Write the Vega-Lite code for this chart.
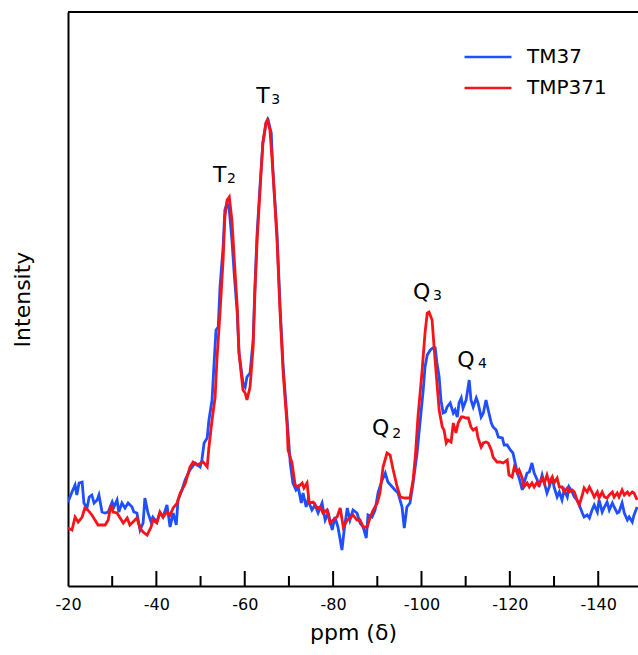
{
  "$schema": "https://vega.github.io/schema/vega-lite/v6.json",
  "width": 570,
  "height": 574,
  "autosize": {"type": "none"},
  "padding": {"left": 68, "top": 12, "right": 0, "bottom": 69},
  "config": {
    "view": {"stroke": null},
    "font": "DejaVu Sans",
    "axis": {"labelFont": "DejaVu Sans", "titleFont": "DejaVu Sans", "labelColor": "black", "titleColor": "black", "titleFontWeight": "normal", "domainColor": "black", "domainWidth": 2, "grid": false}
  },
  "datasets": {
    "spectra": [
      {"sample":"TM37","ppm":-20.0,"intensity":84},{"sample":"TM37","ppm":-20.9,"intensity":94},{"sample":"TM37","ppm":-21.6,"intensity":101},{"sample":"TM37","ppm":-22.0,"intensity":91},{"sample":"TM37","ppm":-22.5,"intensity":103},{"sample":"TM37","ppm":-23.2,"intensity":104},{"sample":"TM37","ppm":-23.6,"intensity":83},{"sample":"TM37","ppm":-24.3,"intensity":78},{"sample":"TM37","ppm":-24.8,"intensity":89},{"sample":"TM37","ppm":-25.4,"intensity":91},{"sample":"TM37","ppm":-25.9,"intensity":83},{"sample":"TM37","ppm":-26.6,"intensity":86},{"sample":"TM37","ppm":-27.0,"intensity":91},{"sample":"TM37","ppm":-27.7,"intensity":74},{"sample":"TM37","ppm":-28.4,"intensity":73},{"sample":"TM37","ppm":-29.1,"intensity":74},{"sample":"TM37","ppm":-30.0,"intensity":84},{"sample":"TM37","ppm":-30.4,"intensity":79},{"sample":"TM37","ppm":-31.1,"intensity":86},{"sample":"TM37","ppm":-31.5,"intensity":74},{"sample":"TM37","ppm":-32.2,"intensity":83},{"sample":"TM37","ppm":-32.9,"intensity":78},{"sample":"TM37","ppm":-33.6,"intensity":83},{"sample":"TM37","ppm":-34.5,"intensity":79},{"sample":"TM37","ppm":-34.9,"intensity":74},{"sample":"TM37","ppm":-35.6,"intensity":73},{"sample":"TM37","ppm":-36.3,"intensity":56},{"sample":"TM37","ppm":-37.0,"intensity":63},{"sample":"TM37","ppm":-37.4,"intensity":88},{"sample":"TM37","ppm":-38.1,"intensity":73},{"sample":"TM37","ppm":-38.8,"intensity":64},{"sample":"TM37","ppm":-39.2,"intensity":69},{"sample":"TM37","ppm":-40.1,"intensity":64},{"sample":"TM37","ppm":-40.8,"intensity":73},{"sample":"TM37","ppm":-41.5,"intensity":69},{"sample":"TM37","ppm":-42.4,"intensity":81},{"sample":"TM37","ppm":-43.1,"intensity":59},{"sample":"TM37","ppm":-43.8,"intensity":73},{"sample":"TM37","ppm":-44.5,"intensity":61},{"sample":"TM37","ppm":-44.9,"intensity":86},{"sample":"TM37","ppm":-45.8,"intensity":96},{"sample":"TM37","ppm":-46.5,"intensity":106},{"sample":"TM37","ppm":-47.6,"intensity":116},{"sample":"TM37","ppm":-48.8,"intensity":123},{"sample":"TM37","ppm":-49.9,"intensity":119},{"sample":"TM37","ppm":-50.3,"intensity":126},{"sample":"TM37","ppm":-50.8,"intensity":143},{"sample":"TM37","ppm":-51.5,"intensity":148},{"sample":"TM37","ppm":-51.9,"intensity":166},{"sample":"TM37","ppm":-52.6,"intensity":186},{"sample":"TM37","ppm":-53.1,"intensity":226},{"sample":"TM37","ppm":-53.5,"intensity":256},{"sample":"TM37","ppm":-54.0,"intensity":259},{"sample":"TM37","ppm":-54.4,"intensity":299},{"sample":"TM37","ppm":-55.1,"intensity":339},{"sample":"TM37","ppm":-55.5,"intensity":376},{"sample":"TM37","ppm":-56.0,"intensity":383},{"sample":"TM37","ppm":-56.5,"intensity":376},{"sample":"TM37","ppm":-57.1,"intensity":346},{"sample":"TM37","ppm":-57.6,"intensity":313},{"sample":"TM37","ppm":-58.3,"intensity":273},{"sample":"TM37","ppm":-58.7,"intensity":233},{"sample":"TM37","ppm":-59.6,"intensity":203},{"sample":"TM37","ppm":-60.1,"intensity":199},{"sample":"TM37","ppm":-60.5,"intensity":209},{"sample":"TM37","ppm":-61.2,"intensity":213},{"sample":"TM37","ppm":-61.9,"intensity":246},{"sample":"TM37","ppm":-62.3,"intensity":299},{"sample":"TM37","ppm":-62.8,"intensity":353},{"sample":"TM37","ppm":-63.5,"intensity":403},{"sample":"TM37","ppm":-64.1,"intensity":443},{"sample":"TM37","ppm":-64.8,"intensity":463},{"sample":"TM37","ppm":-65.3,"intensity":466},{"sample":"TM37","ppm":-66.0,"intensity":453},{"sample":"TM37","ppm":-66.4,"intensity":413},{"sample":"TM37","ppm":-67.3,"intensity":353},{"sample":"TM37","ppm":-68.0,"intensity":279},{"sample":"TM37","ppm":-68.7,"intensity":219},{"sample":"TM37","ppm":-69.6,"intensity":166},{"sample":"TM37","ppm":-70.3,"intensity":123},{"sample":"TM37","ppm":-70.9,"intensity":103},{"sample":"TM37","ppm":-71.6,"intensity":96},{"sample":"TM37","ppm":-72.1,"intensity":99},{"sample":"TM37","ppm":-72.8,"intensity":83},{"sample":"TM37","ppm":-73.2,"intensity":93},{"sample":"TM37","ppm":-73.9,"intensity":79},{"sample":"TM37","ppm":-74.3,"intensity":86},{"sample":"TM37","ppm":-75.2,"intensity":76},{"sample":"TM37","ppm":-75.9,"intensity":81},{"sample":"TM37","ppm":-76.6,"intensity":73},{"sample":"TM37","ppm":-77.5,"intensity":83},{"sample":"TM37","ppm":-78.2,"intensity":66},{"sample":"TM37","ppm":-78.9,"intensity":73},{"sample":"TM37","ppm":-79.8,"intensity":56},{"sample":"TM37","ppm":-80.4,"intensity":69},{"sample":"TM37","ppm":-81.1,"intensity":59},{"sample":"TM37","ppm":-82.0,"intensity":36},{"sample":"TM37","ppm":-82.5,"intensity":56},{"sample":"TM37","ppm":-83.2,"intensity":78},{"sample":"TM37","ppm":-83.8,"intensity":66},{"sample":"TM37","ppm":-84.5,"intensity":76},{"sample":"TM37","ppm":-85.4,"intensity":73},{"sample":"TM37","ppm":-86.1,"intensity":63},{"sample":"TM37","ppm":-86.8,"intensity":59},{"sample":"TM37","ppm":-87.5,"intensity":48},{"sample":"TM37","ppm":-87.9,"intensity":71},{"sample":"TM37","ppm":-88.8,"intensity":69},{"sample":"TM37","ppm":-89.5,"intensity":76},{"sample":"TM37","ppm":-90.2,"intensity":94},{"sample":"TM37","ppm":-91.1,"intensity":106},{"sample":"TM37","ppm":-91.8,"intensity":113},{"sample":"TM37","ppm":-92.4,"intensity":104},{"sample":"TM37","ppm":-93.4,"intensity":99},{"sample":"TM37","ppm":-94.0,"intensity":96},{"sample":"TM37","ppm":-94.7,"intensity":93},{"sample":"TM37","ppm":-95.6,"intensity":79},{"sample":"TM37","ppm":-96.1,"intensity":58},{"sample":"TM37","ppm":-96.7,"intensity":79},{"sample":"TM37","ppm":-97.4,"intensity":83},{"sample":"TM37","ppm":-98.1,"intensity":103},{"sample":"TM37","ppm":-99.0,"intensity":133},{"sample":"TM37","ppm":-99.5,"intensity":156},{"sample":"TM37","ppm":-100.4,"intensity":196},{"sample":"TM37","ppm":-100.8,"intensity":219},{"sample":"TM37","ppm":-101.3,"intensity":231},{"sample":"TM37","ppm":-102.0,"intensity":236},{"sample":"TM37","ppm":-102.6,"intensity":238},{"sample":"TM37","ppm":-103.1,"intensity":238},{"sample":"TM37","ppm":-103.5,"intensity":223},{"sample":"TM37","ppm":-104.0,"intensity":209},{"sample":"TM37","ppm":-104.4,"intensity":186},{"sample":"TM37","ppm":-104.9,"intensity":173},{"sample":"TM37","ppm":-105.4,"intensity":174},{"sample":"TM37","ppm":-105.8,"intensity":179},{"sample":"TM37","ppm":-106.5,"intensity":183},{"sample":"TM37","ppm":-107.2,"intensity":173},{"sample":"TM37","ppm":-107.6,"intensity":176},{"sample":"TM37","ppm":-108.1,"intensity":169},{"sample":"TM37","ppm":-108.5,"intensity":183},{"sample":"TM37","ppm":-109.0,"intensity":188},{"sample":"TM37","ppm":-109.4,"intensity":178},{"sample":"TM37","ppm":-110.1,"intensity":186},{"sample":"TM37","ppm":-110.8,"intensity":206},{"sample":"TM37","ppm":-111.2,"intensity":186},{"sample":"TM37","ppm":-111.7,"intensity":179},{"sample":"TM37","ppm":-112.4,"intensity":188},{"sample":"TM37","ppm":-112.8,"intensity":183},{"sample":"TM37","ppm":-113.5,"intensity":169},{"sample":"TM37","ppm":-114.0,"intensity":173},{"sample":"TM37","ppm":-114.6,"intensity":186},{"sample":"TM37","ppm":-115.1,"intensity":176},{"sample":"TM37","ppm":-115.8,"intensity":163},{"sample":"TM37","ppm":-116.2,"intensity":159},{"sample":"TM37","ppm":-116.9,"intensity":156},{"sample":"TM37","ppm":-117.4,"intensity":149},{"sample":"TM37","ppm":-118.3,"intensity":148},{"sample":"TM37","ppm":-118.7,"intensity":141},{"sample":"TM37","ppm":-119.4,"intensity":141},{"sample":"TM37","ppm":-120.1,"intensity":136},{"sample":"TM37","ppm":-120.7,"intensity":133},{"sample":"TM37","ppm":-121.2,"intensity":123},{"sample":"TM37","ppm":-121.7,"intensity":113},{"sample":"TM37","ppm":-122.1,"intensity":108},{"sample":"TM37","ppm":-122.8,"intensity":96},{"sample":"TM37","ppm":-123.2,"intensity":103},{"sample":"TM37","ppm":-123.9,"intensity":113},{"sample":"TM37","ppm":-124.4,"intensity":114},{"sample":"TM37","ppm":-125.0,"intensity":123},{"sample":"TM37","ppm":-125.5,"intensity":113},{"sample":"TM37","ppm":-126.2,"intensity":106},{"sample":"TM37","ppm":-126.6,"intensity":99},{"sample":"TM37","ppm":-127.3,"intensity":111},{"sample":"TM37","ppm":-127.8,"intensity":103},{"sample":"TM37","ppm":-128.4,"intensity":93},{"sample":"TM37","ppm":-128.9,"intensity":99},{"sample":"TM37","ppm":-129.6,"intensity":109},{"sample":"TM37","ppm":-130.0,"intensity":99},{"sample":"TM37","ppm":-130.7,"intensity":89},{"sample":"TM37","ppm":-131.2,"intensity":94},{"sample":"TM37","ppm":-131.8,"intensity":86},{"sample":"TM37","ppm":-132.3,"intensity":96},{"sample":"TM37","ppm":-133.0,"intensity":89},{"sample":"TM37","ppm":-133.4,"intensity":99},{"sample":"TM37","ppm":-134.1,"intensity":94},{"sample":"TM37","ppm":-134.6,"intensity":89},{"sample":"TM37","ppm":-135.2,"intensity":86},{"sample":"TM37","ppm":-135.7,"intensity":81},{"sample":"TM37","ppm":-136.4,"intensity":73},{"sample":"TM37","ppm":-136.8,"intensity":69},{"sample":"TM37","ppm":-137.5,"intensity":71},{"sample":"TM37","ppm":-138.0,"intensity":68},{"sample":"TM37","ppm":-138.6,"intensity":76},{"sample":"TM37","ppm":-139.1,"intensity":81},{"sample":"TM37","ppm":-139.8,"intensity":74},{"sample":"TM37","ppm":-140.2,"intensity":86},{"sample":"TM37","ppm":-140.9,"intensity":74},{"sample":"TM37","ppm":-141.4,"intensity":79},{"sample":"TM37","ppm":-142.0,"intensity":84},{"sample":"TM37","ppm":-142.5,"intensity":76},{"sample":"TM37","ppm":-143.2,"intensity":83},{"sample":"TM37","ppm":-143.6,"intensity":79},{"sample":"TM37","ppm":-144.3,"intensity":73},{"sample":"TM37","ppm":-144.7,"intensity":74},{"sample":"TM37","ppm":-145.4,"intensity":83},{"sample":"TM37","ppm":-145.9,"intensity":73},{"sample":"TM37","ppm":-146.6,"intensity":66},{"sample":"TM37","ppm":-147.0,"intensity":69},{"sample":"TM37","ppm":-147.7,"intensity":64},{"sample":"TM37","ppm":-148.1,"intensity":71},{"sample":"TM37","ppm":-148.8,"intensity":79},
      {"sample":"TMP371","ppm":-20.0,"intensity":58},{"sample":"TMP371","ppm":-20.9,"intensity":56},{"sample":"TMP371","ppm":-21.6,"intensity":69},{"sample":"TMP371","ppm":-22.3,"intensity":64},{"sample":"TMP371","ppm":-23.2,"intensity":69},{"sample":"TMP371","ppm":-23.8,"intensity":78},{"sample":"TMP371","ppm":-24.5,"intensity":76},{"sample":"TMP371","ppm":-25.4,"intensity":71},{"sample":"TMP371","ppm":-26.1,"intensity":66},{"sample":"TMP371","ppm":-26.8,"intensity":61},{"sample":"TMP371","ppm":-27.7,"intensity":61},{"sample":"TMP371","ppm":-28.4,"intensity":61},{"sample":"TMP371","ppm":-29.1,"intensity":66},{"sample":"TMP371","ppm":-29.7,"intensity":81},{"sample":"TMP371","ppm":-30.2,"intensity":74},{"sample":"TMP371","ppm":-31.1,"intensity":73},{"sample":"TMP371","ppm":-31.8,"intensity":68},{"sample":"TMP371","ppm":-32.5,"intensity":63},{"sample":"TMP371","ppm":-33.4,"intensity":68},{"sample":"TMP371","ppm":-34.0,"intensity":61},{"sample":"TMP371","ppm":-34.7,"intensity":64},{"sample":"TMP371","ppm":-35.6,"intensity":68},{"sample":"TMP371","ppm":-36.3,"intensity":58},{"sample":"TMP371","ppm":-37.0,"intensity":54},{"sample":"TMP371","ppm":-37.9,"intensity":51},{"sample":"TMP371","ppm":-38.8,"intensity":59},{"sample":"TMP371","ppm":-39.2,"intensity":66},{"sample":"TMP371","ppm":-40.1,"intensity":63},{"sample":"TMP371","ppm":-40.8,"intensity":74},{"sample":"TMP371","ppm":-41.5,"intensity":69},{"sample":"TMP371","ppm":-42.4,"intensity":74},{"sample":"TMP371","ppm":-43.1,"intensity":71},{"sample":"TMP371","ppm":-43.8,"intensity":78},{"sample":"TMP371","ppm":-44.7,"intensity":83},{"sample":"TMP371","ppm":-45.4,"intensity":93},{"sample":"TMP371","ppm":-46.5,"intensity":102},{"sample":"TMP371","ppm":-47.6,"intensity":119},{"sample":"TMP371","ppm":-48.3,"intensity":124},{"sample":"TMP371","ppm":-49.2,"intensity":121},{"sample":"TMP371","ppm":-50.1,"intensity":123},{"sample":"TMP371","ppm":-50.6,"intensity":124},{"sample":"TMP371","ppm":-51.5,"intensity":119},{"sample":"TMP371","ppm":-51.9,"intensity":139},{"sample":"TMP371","ppm":-52.6,"intensity":166},{"sample":"TMP371","ppm":-53.3,"intensity":189},{"sample":"TMP371","ppm":-53.7,"intensity":226},{"sample":"TMP371","ppm":-54.4,"intensity":273},{"sample":"TMP371","ppm":-55.1,"intensity":326},{"sample":"TMP371","ppm":-55.5,"intensity":369},{"sample":"TMP371","ppm":-56.0,"intensity":386},{"sample":"TMP371","ppm":-56.5,"intensity":389},{"sample":"TMP371","ppm":-57.1,"intensity":366},{"sample":"TMP371","ppm":-57.6,"intensity":329},{"sample":"TMP371","ppm":-58.3,"intensity":279},{"sample":"TMP371","ppm":-58.7,"intensity":233},{"sample":"TMP371","ppm":-59.6,"intensity":196},{"sample":"TMP371","ppm":-60.1,"intensity":193},{"sample":"TMP371","ppm":-60.5,"intensity":186},{"sample":"TMP371","ppm":-61.2,"intensity":199},{"sample":"TMP371","ppm":-61.9,"intensity":239},{"sample":"TMP371","ppm":-62.3,"intensity":293},{"sample":"TMP371","ppm":-62.8,"intensity":346},{"sample":"TMP371","ppm":-63.5,"intensity":399},{"sample":"TMP371","ppm":-64.1,"intensity":443},{"sample":"TMP371","ppm":-64.8,"intensity":463},{"sample":"TMP371","ppm":-65.1,"intensity":466},{"sample":"TMP371","ppm":-65.7,"intensity":456},{"sample":"TMP371","ppm":-66.4,"intensity":413},{"sample":"TMP371","ppm":-67.3,"intensity":346},{"sample":"TMP371","ppm":-68.0,"intensity":273},{"sample":"TMP371","ppm":-68.7,"intensity":213},{"sample":"TMP371","ppm":-69.6,"intensity":159},{"sample":"TMP371","ppm":-69.8,"intensity":136},{"sample":"TMP371","ppm":-70.7,"intensity":123},{"sample":"TMP371","ppm":-71.4,"intensity":101},{"sample":"TMP371","ppm":-72.1,"intensity":99},{"sample":"TMP371","ppm":-73.0,"intensity":103},{"sample":"TMP371","ppm":-73.4,"intensity":98},{"sample":"TMP371","ppm":-74.1,"intensity":103},{"sample":"TMP371","ppm":-74.6,"intensity":83},{"sample":"TMP371","ppm":-75.5,"intensity":84},{"sample":"TMP371","ppm":-76.4,"intensity":78},{"sample":"TMP371","ppm":-77.1,"intensity":79},{"sample":"TMP371","ppm":-77.7,"intensity":73},{"sample":"TMP371","ppm":-78.6,"intensity":76},{"sample":"TMP371","ppm":-79.3,"intensity":63},{"sample":"TMP371","ppm":-80.0,"intensity":66},{"sample":"TMP371","ppm":-80.9,"intensity":69},{"sample":"TMP371","ppm":-81.6,"intensity":78},{"sample":"TMP371","ppm":-82.3,"intensity":59},{"sample":"TMP371","ppm":-83.2,"intensity":66},{"sample":"TMP371","ppm":-83.8,"intensity":68},{"sample":"TMP371","ppm":-84.5,"intensity":71},{"sample":"TMP371","ppm":-85.4,"intensity":66},{"sample":"TMP371","ppm":-86.1,"intensity":66},{"sample":"TMP371","ppm":-86.8,"intensity":59},{"sample":"TMP371","ppm":-87.7,"intensity":59},{"sample":"TMP371","ppm":-88.4,"intensity":69},{"sample":"TMP371","ppm":-89.1,"intensity":76},{"sample":"TMP371","ppm":-90.0,"intensity":83},{"sample":"TMP371","ppm":-90.6,"intensity":93},{"sample":"TMP371","ppm":-91.3,"intensity":119},{"sample":"TMP371","ppm":-92.2,"intensity":133},{"sample":"TMP371","ppm":-92.9,"intensity":131},{"sample":"TMP371","ppm":-93.6,"intensity":116},{"sample":"TMP371","ppm":-94.5,"intensity":99},{"sample":"TMP371","ppm":-95.2,"intensity":89},{"sample":"TMP371","ppm":-96.3,"intensity":88},{"sample":"TMP371","ppm":-97.4,"intensity":88},{"sample":"TMP371","ppm":-98.1,"intensity":106},{"sample":"TMP371","ppm":-98.6,"intensity":129},{"sample":"TMP371","ppm":-99.2,"intensity":169},{"sample":"TMP371","ppm":-100.1,"intensity":213},{"sample":"TMP371","ppm":-100.8,"intensity":253},{"sample":"TMP371","ppm":-101.3,"intensity":273},{"sample":"TMP371","ppm":-101.7,"intensity":274},{"sample":"TMP371","ppm":-102.4,"intensity":266},{"sample":"TMP371","ppm":-102.9,"intensity":236},{"sample":"TMP371","ppm":-103.5,"intensity":203},{"sample":"TMP371","ppm":-104.0,"intensity":176},{"sample":"TMP371","ppm":-104.7,"intensity":159},{"sample":"TMP371","ppm":-105.1,"intensity":156},{"sample":"TMP371","ppm":-105.6,"intensity":143},{"sample":"TMP371","ppm":-106.0,"intensity":146},{"sample":"TMP371","ppm":-106.7,"intensity":144},{"sample":"TMP371","ppm":-107.2,"intensity":163},{"sample":"TMP371","ppm":-107.8,"intensity":153},{"sample":"TMP371","ppm":-108.3,"intensity":163},{"sample":"TMP371","ppm":-109.0,"intensity":169},{"sample":"TMP371","ppm":-109.4,"intensity":169},{"sample":"TMP371","ppm":-110.1,"intensity":168},{"sample":"TMP371","ppm":-110.6,"intensity":168},{"sample":"TMP371","ppm":-111.2,"intensity":159},{"sample":"TMP371","ppm":-111.7,"intensity":156},{"sample":"TMP371","ppm":-112.4,"intensity":158},{"sample":"TMP371","ppm":-112.8,"intensity":148},{"sample":"TMP371","ppm":-113.5,"intensity":139},{"sample":"TMP371","ppm":-114.0,"intensity":143},{"sample":"TMP371","ppm":-114.6,"intensity":144},{"sample":"TMP371","ppm":-115.1,"intensity":143},{"sample":"TMP371","ppm":-115.8,"intensity":136},{"sample":"TMP371","ppm":-116.2,"intensity":129},{"sample":"TMP371","ppm":-117.1,"intensity":124},{"sample":"TMP371","ppm":-117.8,"intensity":124},{"sample":"TMP371","ppm":-118.5,"intensity":123},{"sample":"TMP371","ppm":-119.4,"intensity":126},{"sample":"TMP371","ppm":-119.8,"intensity":111},{"sample":"TMP371","ppm":-120.5,"intensity":109},{"sample":"TMP371","ppm":-121.0,"intensity":119},{"sample":"TMP371","ppm":-121.7,"intensity":113},{"sample":"TMP371","ppm":-122.1,"intensity":116},{"sample":"TMP371","ppm":-122.8,"intensity":108},{"sample":"TMP371","ppm":-123.2,"intensity":99},{"sample":"TMP371","ppm":-123.9,"intensity":103},{"sample":"TMP371","ppm":-124.4,"intensity":99},{"sample":"TMP371","ppm":-125.0,"intensity":103},{"sample":"TMP371","ppm":-125.5,"intensity":99},{"sample":"TMP371","ppm":-126.2,"intensity":104},{"sample":"TMP371","ppm":-126.6,"intensity":101},{"sample":"TMP371","ppm":-127.3,"intensity":108},{"sample":"TMP371","ppm":-127.8,"intensity":103},{"sample":"TMP371","ppm":-128.4,"intensity":111},{"sample":"TMP371","ppm":-128.9,"intensity":103},{"sample":"TMP371","ppm":-129.6,"intensity":109},{"sample":"TMP371","ppm":-130.0,"intensity":103},{"sample":"TMP371","ppm":-130.7,"intensity":108},{"sample":"TMP371","ppm":-131.2,"intensity":99},{"sample":"TMP371","ppm":-131.8,"intensity":99},{"sample":"TMP371","ppm":-132.3,"intensity":94},{"sample":"TMP371","ppm":-133.0,"intensity":98},{"sample":"TMP371","ppm":-133.4,"intensity":94},{"sample":"TMP371","ppm":-134.1,"intensity":96},{"sample":"TMP371","ppm":-134.6,"intensity":94},{"sample":"TMP371","ppm":-135.2,"intensity":86},{"sample":"TMP371","ppm":-135.7,"intensity":81},{"sample":"TMP371","ppm":-136.4,"intensity":91},{"sample":"TMP371","ppm":-136.8,"intensity":98},{"sample":"TMP371","ppm":-137.5,"intensity":94},{"sample":"TMP371","ppm":-138.0,"intensity":99},{"sample":"TMP371","ppm":-138.6,"intensity":94},{"sample":"TMP371","ppm":-139.1,"intensity":89},{"sample":"TMP371","ppm":-139.8,"intensity":94},{"sample":"TMP371","ppm":-140.2,"intensity":88},{"sample":"TMP371","ppm":-140.9,"intensity":94},{"sample":"TMP371","ppm":-141.4,"intensity":89},{"sample":"TMP371","ppm":-142.0,"intensity":88},{"sample":"TMP371","ppm":-142.5,"intensity":91},{"sample":"TMP371","ppm":-143.2,"intensity":94},{"sample":"TMP371","ppm":-143.6,"intensity":89},{"sample":"TMP371","ppm":-144.3,"intensity":93},{"sample":"TMP371","ppm":-144.7,"intensity":89},{"sample":"TMP371","ppm":-145.4,"intensity":96},{"sample":"TMP371","ppm":-145.9,"intensity":91},{"sample":"TMP371","ppm":-146.6,"intensity":94},{"sample":"TMP371","ppm":-147.0,"intensity":91},{"sample":"TMP371","ppm":-147.7,"intensity":94},{"sample":"TMP371","ppm":-148.1,"intensity":93},{"sample":"TMP371","ppm":-148.8,"intensity":86}
    ],
    "labels": [
      {"ppm":-52.8,"intensity":404,"text":"T","kind":"main"},
      {"ppm":-56.0,"intensity":403,"text":"2","kind":"sub"},
      {"ppm":-62.6,"intensity":483,"text":"T","kind":"main"},
      {"ppm":-66.0,"intensity":482,"text":"3","kind":"sub"},
      {"ppm":-88.8,"intensity":151,"text":"Q","kind":"main"},
      {"ppm":-93.4,"intensity":148,"text":"2","kind":"sub"},
      {"ppm":-98.1,"intensity":287,"text":"Q","kind":"main"},
      {"ppm":-102.6,"intensity":286,"text":"3","kind":"sub"},
      {"ppm":-108.1,"intensity":219,"text":"Q","kind":"main"},
      {"ppm":-112.8,"intensity":218,"text":"4","kind":"sub"}
    ],
    "majorTicks": [{"ppm":-40},{"ppm":-60},{"ppm":-80},{"ppm":-100},{"ppm":-120},{"ppm":-140}],
    "minorTicks": [{"ppm":-30},{"ppm":-50},{"ppm":-70},{"ppm":-90},{"ppm":-110},{"ppm":-130}]
  },
  "layer": [
    {
      "data": {"name": "spectra"},
      "mark": {"type": "line", "strokeWidth": 2.8, "clip": true},
      "encoding": {
        "x": {"field": "ppm", "type": "quantitative", "scale": {"domain": [-20, -149], "nice": false, "zero": false},
          "axis": {"values": [-20, -40, -60, -80, -100, -120, -140], "labelExpr": "'-' + abs(datum.value)", "labelFlush": false, "ticks": false, "labelFontSize": 16, "labelPadding": 10, "title": "ppm (δ)", "titleFontSize": 22, "titlePadding": 10}},
        "y": {"field": "intensity", "type": "quantitative", "scale": {"domain": [0, 574], "nice": false},
          "axis": {"ticks": false, "labels": false, "title": "Intensity", "titleFontSize": 22, "titlePadding": 34}},
        "color": {"field": "sample", "type": "nominal",
          "scale": {"domain": ["TM37", "TMP371"], "range": ["#1f4fff", "#f5141a"]},
          "legend": {"title": null, "orient": "none", "legendX": 410, "legendY": 35, "padding": 0, "symbolType": "M-3,0H3", "symbolSize": 245, "symbolStrokeWidth": 2.5, "labelFont": "DejaVu Sans", "labelFontSize": 20, "labelColor": "black", "labelOffset": 29, "rowPadding": 11}},
        "detail": {"field": "sample"}
      }
    },
    {
      "data": {"values": [{}]},
      "mark": {"type": "rule", "color": "black", "strokeWidth": 2},
      "encoding": {"y": {"datum": 574, "type": "quantitative"}}
    },
    {
      "data": {"name": "majorTicks"},
      "mark": {"type": "rule", "color": "black", "strokeWidth": 2},
      "encoding": {
        "x": {"field": "ppm", "type": "quantitative"},
        "y": {"datum": 0, "type": "quantitative"},
        "y2": {"datum": 15}
      }
    },
    {
      "data": {"name": "minorTicks"},
      "mark": {"type": "rule", "color": "black", "strokeWidth": 2},
      "encoding": {
        "x": {"field": "ppm", "type": "quantitative"},
        "y": {"datum": 0, "type": "quantitative"},
        "y2": {"datum": 10}
      }
    },
    {
      "data": {"name": "labels"},
      "transform": [{"filter": "datum.kind === 'main'"}],
      "mark": {"type": "text", "align": "left", "baseline": "alphabetic", "font": "DejaVu Sans", "fontSize": 22, "color": "black"},
      "encoding": {
        "x": {"field": "ppm", "type": "quantitative"},
        "y": {"field": "intensity", "type": "quantitative"},
        "text": {"field": "text"}
      }
    },
    {
      "data": {"name": "labels"},
      "transform": [{"filter": "datum.kind === 'sub'"}],
      "mark": {"type": "text", "align": "left", "baseline": "alphabetic", "font": "DejaVu Sans", "fontSize": 14, "color": "black"},
      "encoding": {
        "x": {"field": "ppm", "type": "quantitative"},
        "y": {"field": "intensity", "type": "quantitative"},
        "text": {"field": "text"}
      }
    }
  ]
}
